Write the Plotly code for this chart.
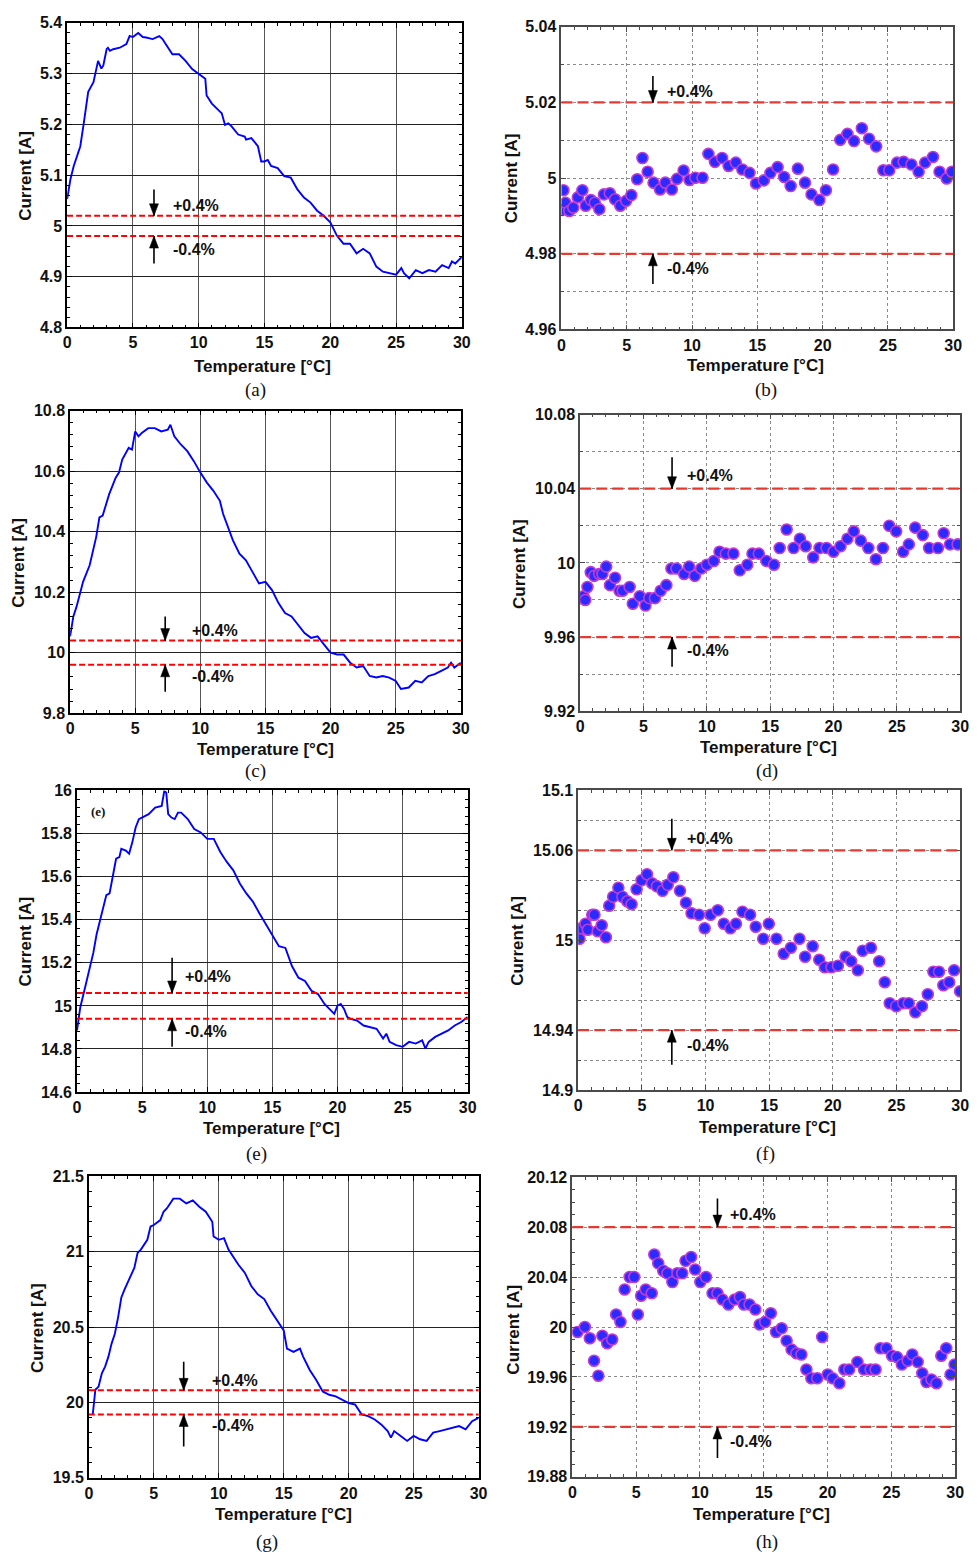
import plotly.graph_objects as go

W, H = 979, 1564
TOL = 0.004

# ---------------- data ----------------
temp_a = [0, 0.25, 0.5, 1, 1.25, 1.6, 2, 2.35, 2.6, 2.75, 3, 3.1, 3.25, 3.5, 4, 4.5, 4.75, 5, 5.4, 5.75,
          6, 6.5, 7, 7.25, 7.5, 8, 8.5, 9, 9.5, 10, 10.5, 10.6, 11, 11.5, 11.75, 12, 12.25, 12.5, 13, 13.5,
          13.6, 14, 14.5, 14.75, 15, 15.25, 15.5, 16, 16.5, 17, 17.5, 18, 18.5, 19, 19.5, 20, 20.5, 21, 21.5, 22,
          22.5, 23, 23.5, 24, 24.5, 25, 25.4, 25.6, 26, 26.5, 27, 27.5, 28, 28.5, 29, 29.25, 29.5, 30]
cur_a = [5.053, 5.092, 5.118, 5.157, 5.2, 5.264, 5.283, 5.325, 5.31, 5.316, 5.348, 5.351, 5.345, 5.348, 5.351, 5.358, 5.374, 5.372, 5.38, 5.372,
         5.371, 5.368, 5.374, 5.368, 5.358, 5.338, 5.338, 5.325, 5.309, 5.299, 5.29, 5.257, 5.241, 5.228, 5.222, 5.199, 5.202, 5.196, 5.18, 5.176,
         5.17, 5.173, 5.157, 5.127, 5.127, 5.13, 5.118, 5.114, 5.098, 5.095, 5.072, 5.056, 5.046, 5.03, 5.02, 5.007, 4.981, 4.965, 4.965, 4.946,
         4.955, 4.946, 4.92, 4.91, 4.907, 4.904, 4.917, 4.907, 4.897, 4.913, 4.907, 4.913, 4.91, 4.923, 4.917, 4.93, 4.926, 4.939]

temp_c = [0, 0.25, 0.5, 0.75, 1, 1.5, 2, 2.25, 2.5, 3, 3.5, 3.75, 4, 4.5, 4.75, 5, 5.25, 5.5, 6, 6.5,
          7, 7.5, 7.7, 8, 8.5, 9, 9.5, 10, 10.5, 11, 11.5, 11.75, 12, 12.5, 13, 13.5, 14, 14.5, 15, 15.5,
          16, 16.5, 17, 17.5, 18, 18.5, 19, 19.5, 20, 20.5, 21, 21.5, 22, 22.5, 23, 23.5, 24, 24.5, 25, 25.4,
          26, 26.5, 27, 27.5, 28, 28.5, 29, 29.25, 29.5, 30]
cur_c = [10.054, 10.12, 10.153, 10.196, 10.235, 10.289, 10.382, 10.447, 10.453, 10.524, 10.578, 10.595, 10.638, 10.677, 10.671, 10.731, 10.715, 10.726, 10.742, 10.742,
         10.731, 10.737, 10.753, 10.715, 10.688, 10.666, 10.633, 10.595, 10.562, 10.535, 10.502, 10.458, 10.431, 10.371, 10.327, 10.305, 10.267, 10.229, 10.234, 10.207,
         10.164, 10.131, 10.12, 10.093, 10.065, 10.049, 10.054, 10.027, 10.0, 9.994, 9.994, 9.967, 9.951, 9.956, 9.923, 9.918, 9.923, 9.918, 9.907, 9.88,
         9.885, 9.907, 9.902, 9.923, 9.929, 9.94, 9.951, 9.967, 9.951, 9.967]

temp_e = [0, 0.25, 0.5, 0.75, 1, 1.25, 1.5, 1.75, 2, 2.25, 2.5, 2.75, 3, 3.25, 3.4, 3.75, 4, 4.25, 4.5, 4.75,
          5, 5.5, 6, 6.5, 6.7, 6.85, 7, 7.25, 7.5, 7.75, 8, 8.5, 9, 9.5, 10, 10.5, 11, 11.5, 12, 12.5,
          13, 13.5, 14, 14.5, 15, 15.5, 16, 16.5, 17, 17.5, 18, 18.5, 19, 19.5, 19.75, 20, 20.25, 20.5, 20.75, 21,
          21.5, 22, 22.5, 23, 23.5, 23.75, 24, 24.5, 25, 25.5, 26, 26.5, 26.75, 27, 27.5, 28, 28.5, 29, 29.5, 30]
cur_e = [14.886, 14.994, 15.055, 15.116, 15.185, 15.246, 15.331, 15.392, 15.461, 15.514, 15.522, 15.606, 15.683, 15.69, 15.729, 15.721, 15.706, 15.76, 15.828, 15.867,
         15.874, 15.89, 15.92, 15.928, 15.997, 15.99, 15.89, 15.874, 15.867, 15.897, 15.897, 15.867, 15.821, 15.805, 15.775, 15.775, 15.714, 15.668, 15.629, 15.568,
         15.522, 15.484, 15.43, 15.377, 15.323, 15.277, 15.269, 15.185, 15.131, 15.116, 15.07, 15.055, 15.009, 14.978, 14.963, 15.001, 15.009, 14.986, 14.948, 14.94,
         14.932, 14.909, 14.902, 14.894, 14.848, 14.871, 14.833, 14.818, 14.81, 14.833, 14.825, 14.84, 14.802, 14.833, 14.856, 14.871, 14.886, 14.909, 14.925, 14.948]

temp_g = [0.3, 0.4, 0.5, 0.75, 1, 1.25, 1.5, 1.75, 2, 2.25, 2.5, 2.75, 3, 3.5, 3.75, 4, 4.5, 4.75, 5, 5.5,
          5.75, 6, 6.5, 7, 7.5, 8, 8.5, 9, 9.5, 9.6, 10, 10.4, 10.75, 11, 11.5, 12, 12.5, 13, 13.5, 14,
          14.5, 15, 15.25, 15.75, 16.25, 16.5, 17, 17.5, 18, 18.5, 19, 19.5, 20, 20.5, 21, 21.5, 22, 22.5, 23, 23.25,
          23.5, 24, 24.5, 25, 25.5, 26, 26.5, 27, 27.5, 28, 28.5, 29, 29.5, 30]
cur_g = [19.92, 19.998, 20.084, 20.105, 20.193, 20.237, 20.302, 20.39, 20.455, 20.564, 20.696, 20.75, 20.794, 20.892, 20.991, 21.013, 21.078, 21.166, 21.176, 21.209,
         21.264, 21.286, 21.351, 21.351, 21.319, 21.34, 21.297, 21.264, 21.198, 21.1, 21.078, 21.089, 21.013, 20.98, 20.914, 20.86, 20.772, 20.717, 20.685, 20.608,
         20.543, 20.477, 20.357, 20.335, 20.357, 20.302, 20.215, 20.149, 20.073, 20.051, 20.04, 20.018, 19.996, 19.985, 19.92, 19.909, 19.887, 19.854, 19.81, 19.767,
         19.81, 19.778, 19.745, 19.778, 19.756, 19.745, 19.8, 19.81, 19.821, 19.832, 19.843, 19.821, 19.876, 19.898]

temp_b = [0.05, 0.15, 0.3, 0.6, 0.9, 1.25, 1.6, 1.85, 2.25, 2.55, 2.9, 3.25, 3.7, 4.1, 4.5, 4.95, 5.35, 5.8, 6.2, 6.6,
          7.05, 7.55, 7.95, 8.45, 8.85, 9.35, 9.8, 10.25, 10.8, 11.25, 11.75, 12.3, 12.8, 13.35, 13.85, 14.4, 14.9, 15.5, 16, 16.55,
          17.05, 17.55, 18.1, 18.65, 19.15, 19.75, 20.25, 20.8, 21.35, 21.9, 22.4, 23, 23.55, 24.1, 24.65, 25.1, 25.7, 26.2, 26.8, 27.35,
          27.85, 28.45, 28.95, 29.5, 29.9]
cur_b = [4.9916, 4.9968, 4.9935, 4.9913, 4.9922, 4.9949, 4.9968, 4.9927, 4.9942, 4.9935, 4.9918, 4.9957, 4.996, 4.9944, 4.9927, 4.994, 4.9955, 4.9997, 5.0053, 5.0017,
         4.9988, 4.997, 4.9988, 4.997, 4.9998, 5.002, 4.9995, 5.0001, 5.0001, 5.0064, 5.0043, 5.0053, 5.0032, 5.0041, 5.0023, 5.0014, 4.9986, 4.9994, 5.0014, 5.0029,
         5.0003, 4.9979, 5.0025, 4.9988, 4.9957, 4.9942, 4.9968, 5.0023, 5.0101, 5.0117, 5.0098, 5.0132, 5.0104, 5.0084, 5.0021, 5.0021, 5.0041, 5.0043, 5.0036, 5.0017,
         5.0041, 5.0056, 5.0017, 4.9999, 5.0017]

temp_d = [0.05, 0.25, 0.4, 0.57, 0.83, 1.1, 1.5, 1.75, 2.05, 2.35, 2.75, 3.1, 3.35, 3.9, 4.15, 4.7, 5.15, 5.45, 5.9, 6.35,
          6.8, 7.2, 7.6, 8.2, 8.6, 9.05, 9.55, 10, 10.55, 11, 11.5, 12.1, 12.6, 13.2, 13.6, 14.1, 14.7, 15.3, 15.75, 16.3,
          16.85, 17.35, 17.8, 18.4, 18.9, 19.45, 20, 20.55, 21.1, 21.6, 22.15, 22.75, 23.35, 23.9, 24.4, 24.95, 25.5, 25.95, 26.45, 27.05,
          27.55, 28.25, 28.7, 29.2, 29.8]
cur_d = [9.981, 9.982, 9.980, 9.987, 9.995, 9.993, 9.994, 9.994, 9.998, 9.988, 9.992, 9.985, 9.985, 9.987, 9.978, 9.982, 9.977, 9.981, 9.981, 9.985,
         9.988, 9.997, 9.997, 9.994, 9.998, 9.993, 9.997, 9.999, 10.001, 10.006, 10.005, 10.005, 9.996, 9.999, 10.005, 10.005, 10.001, 9.999, 10.008, 10.018,
         10.008, 10.013, 10.009, 10.003, 10.008, 10.008, 10.006, 10.009, 10.013, 10.017, 10.012, 10.008, 10.002, 10.008, 10.02, 10.017, 10.006, 10.010, 10.019, 10.015,
         10.008, 10.008, 10.016, 10.010, 10.010]

temp_f = [0.1, 0.23, 0.57, 0.75, 1.1, 1.27, 1.53, 1.84, 2.17, 2.43, 2.74, 3.15, 3.47, 3.85, 4.19, 4.58, 4.97, 5.4, 5.8, 6.18,
          6.62, 7.03, 7.47, 7.99, 8.46, 8.9, 9.49, 9.93, 10.4, 10.96, 11.43, 11.95, 12.39, 12.9, 13.5, 13.94, 14.53, 14.97, 15.57, 16.14,
          16.7, 17.38, 17.82, 18.41, 18.93, 19.37, 19.89, 20.4, 21, 21.44, 21.96, 22.34, 22.99, 23.64, 24.08, 24.47, 24.98, 25.53, 25.96, 26.48,
          27, 27.46, 27.9, 28.34, 28.68, 29.14, 29.53, 30]
cur_f = [15.001, 15.008, 15.011, 15.007, 15.017, 15.017, 15.006, 15.010, 15.002, 15.023, 15.029, 15.035, 15.029, 15.026, 15.024, 15.034, 15.040, 15.044, 15.038, 15.036,
         15.033, 15.037, 15.042, 15.033, 15.025, 15.018, 15.017, 15.008, 15.017, 15.020, 15.011, 15.008, 15.011, 15.019, 15.017, 15.009, 15.001, 15.011, 15.001, 14.991,
         14.995, 15.001, 14.989, 14.996, 14.987, 14.982, 14.982, 14.983, 14.989, 14.986, 14.98, 14.993, 14.995, 14.986, 14.972, 14.958, 14.956, 14.958, 14.958, 14.952,
         14.956, 14.964, 14.979, 14.979, 14.970, 14.972, 14.98, 14.966]

temp_h = [0.41, 0.98, 1.37, 1.7, 2.04, 2.35, 2.73, 3.12, 3.43, 3.77, 4.1, 4.49, 4.85, 5.13, 5.39, 5.75, 6.22, 6.42, 6.73, 7.12,
          7.45, 7.84, 8.23, 8.61, 8.87, 9.31, 9.62, 10.03, 10.47, 10.99, 11.37, 11.76, 12.23, 12.72, 13.13, 13.44, 13.88, 14.34, 14.68, 15.11,
          15.55, 15.96, 16.4, 16.79, 17.18, 17.56, 17.95, 18.34, 18.73, 19.19, 19.58, 20.01, 20.4, 20.92, 21.31, 21.69, 22.34, 22.85, 23.37, 23.76,
          24.14, 24.61, 25.05, 25.43, 25.82, 26.28, 26.64, 27.06, 27.42, 27.75, 28.14, 28.53, 28.91, 29.3, 29.64, 29.95]
cur_h = [19.996, 20.0, 19.991, 19.973, 19.961, 19.993, 19.987, 19.99, 20.01, 20.004, 20.03, 20.04, 20.04, 20.01, 20.025, 20.03, 20.027, 20.058, 20.051, 20.045,
         20.043, 20.036, 20.043, 20.043, 20.053, 20.056, 20.046, 20.036, 20.04, 20.027, 20.027, 20.022, 20.018, 20.022, 20.024, 20.018, 20.018, 20.014, 20.002, 20.004,
         20.011, 19.996, 19.999, 19.989, 19.982, 19.979, 19.978, 19.966, 19.959, 19.959, 19.992, 19.962, 19.959, 19.955, 19.966, 19.966, 19.972, 19.966, 19.966, 19.966,
         19.983, 19.983, 19.977, 19.976, 19.97, 19.973, 19.978, 19.972, 19.963, 19.956, 19.958, 19.955, 19.977, 19.983, 19.962, 19.97]

nominal = {"a": 5, "b": 5, "c": 10, "d": 10, "e": 15, "f": 15, "g": 20, "h": 20}

x_ticks = [0, 5, 10, 15, 20, 25, 30]
x_labels = ["0", "5", "10", "15", "20", "25", "30"]

ytick_a = [4.8, 4.9, 5.0, 5.1, 5.2, 5.3, 5.4]
ylab_a = ["4.8", "4.9", "5", "5.1", "5.2", "5.3", "5.4"]
ytick_c = [9.8, 10.0, 10.2, 10.4, 10.6, 10.8]
ylab_c = ["9.8", "10", "10.2", "10.4", "10.6", "10.8"]
ytick_e = [14.6, 14.8, 15.0, 15.2, 15.4, 15.6, 15.8, 16.0]
ylab_e = ["14.6", "14.8", "15", "15.2", "15.4", "15.6", "15.8", "16"]
ytick_g = [19.5, 20.0, 20.5, 21.0, 21.5]
ylab_g = ["19.5", "20", "20.5", "21", "21.5"]
ytick_b = [4.96, 4.98, 5.0, 5.02, 5.04]
ylab_b = ["4.96", "4.98", "5", "5.02", "5.04"]
ytick_d = [9.92, 9.96, 10.0, 10.04, 10.08]
ylab_d = ["9.92", "9.96", "10", "10.04", "10.08"]
ytick_f = [14.9, 14.94, 15.0, 15.06, 15.1]
ylab_f = ["14.9", "14.94", "15", "15.06", "15.1"]
ytick_h = [19.88, 19.92, 19.96, 20.0, 20.04, 20.08, 20.12]
ylab_h = ["19.88", "19.92", "19.96", "20", "20.04", "20.08", "20.12"]

X_TITLE = "Temperature [°C]"
Y_TITLE = "Current [A]"

# ---------------- layout / style config ----------------
SANS = "Liberation Sans, Arial, sans-serif"
SERIF = "Liberation Serif, Times New Roman, serif"

panels = [
    dict(k="a", kind="line", x=temp_a, y=cur_a, box=(64, 15, 464, 323), yr=[4.8, 5.4], yt=ytick_a, yl=ylab_a,
         ymin=0.02, ygrid_minor=False,
         arr_x=6.6, up_tail=4.926, dn_tail=5.072, tx=7.9, t_up=5.04, t_dn=4.953,
         xt=(262, 362), yt_pos=(21, 170), cap=(255, 386)),
    dict(k="b", kind="pts", x=temp_b, y=cur_b, box=(565, 19, 962, 325), yr=[4.96, 5.04], yt=ytick_b, yl=ylab_b,
         ymin=0.01, ygrid_minor=True,
         arr_x=7.0, up_tail=4.972, dn_tail=5.027, tx=7.95, t_up=5.0228, t_dn=4.976,
         xt=(762, 361), yt_pos=(514, 172), cap=(772, 386)),
    dict(k="c", kind="line", x=temp_c, y=cur_c, box=(67, 407, 463, 713), yr=[9.8, 10.8], yt=ytick_c, yl=ylab_c,
         ymin=0.04, ygrid_minor=False,
         arr_x=7.3, up_tail=9.871, dn_tail=10.12, tx=9.2, t_up=10.073, t_dn=9.92,
         xt=(265, 750), yt_pos=(15, 561), cap=(255, 771)),
    dict(k="d", kind="pts", x=temp_d, y=cur_d, box=(584, 411, 969, 711), yr=[9.92, 10.08], yt=ytick_d, yl=ylab_d,
         ymin=0.02, ygrid_minor=True,
         arr_x=7.25, up_tail=9.944, dn_tail=10.057, tx=8.3, t_up=10.047, t_dn=9.953,
         xt=(775, 748), yt_pos=(523, 562), cap=(773, 771)),
    dict(k="e", kind="line", x=temp_e, y=cur_e, box=(74, 791, 470, 1096), yr=[14.6, 16.0], yt=ytick_e, yl=ylab_e,
         ymin=0.04, ygrid_minor=False,
         arr_x=7.3, up_tail=14.81, dn_tail=15.223, tx=8.15, t_up=15.135, t_dn=14.879,
         xt=(271, 1133), yt_pos=(22, 944), cap=(256, 1159)),
    dict(k="f", kind="pts", x=temp_f, y=cur_f, box=(582, 791, 969, 1094), yr=[14.9, 15.1], yt=ytick_f, yl=ylab_f,
         ymin=0.02, ygrid_minor=True,
         arr_x=7.35, up_tail=14.917, dn_tail=15.081, tx=8.4, t_up=15.068, t_dn=14.93,
         xt=(774, 1132), yt_pos=(521, 943), cap=(772, 1159)),
    dict(k="g", kind="line", x=temp_g, y=cur_g, box=(86, 1181, 481, 1486), yr=[19.5, 21.5], yt=ytick_g, yl=ylab_g,
         ymin=0.1, ygrid_minor=False,
         arr_x=7.3, up_tail=19.708, dn_tail=20.27, tx=9.35, t_up=20.145, t_dn=19.85,
         xt=(283, 1523), yt_pos=(34, 1335), cap=(267, 1551)),
    dict(k="h", kind="pts", x=temp_h, y=cur_h, box=(576, 1182, 964, 1485), yr=[19.88, 20.12], yt=ytick_h, yl=ylab_h,
         ymin=0.01, ygrid_minor=False,
         arr_x=11.37, up_tail=19.895, dn_tail=20.103, tx=12.2, t_up=20.09, t_dn=19.908,
         xt=(768, 1523), yt_pos=(516, 1336), cap=(773, 1551)),
]

fig = go.Figure()
layout = dict(width=W, height=H, margin=dict(l=0, r=0, t=0, b=0),
              paper_bgcolor="white", plot_bgcolor="white", showlegend=False)
shapes, annotations = [], []

for i, p in enumerate(panels, start=1):
    xn = "x" if i == 1 else f"x{i}"
    yn = "y" if i == 1 else f"y{i}"
    xk = "xaxis" if i == 1 else f"xaxis{i}"
    yk = "yaxis" if i == 1 else f"yaxis{i}"
    x0, y0, x1, y1 = p["box"]
    left = p["kind"] == "line"
    frame = "#000000" if left else "#4a4a4a"
    tick_fs = 16
    if left:
        gx = dict(gridcolor="#555555", gridwidth=1.3, griddash="solid")
        gy = dict(gridcolor="#222222", gridwidth=1, griddash="solid")
    else:
        gx = dict(gridcolor="#8a8a8a", gridwidth=1.2, griddash="dot")
        gy = dict(gridcolor="#8a8a8a", gridwidth=1.2, griddash="dot")
    common = dict(showline=True, linecolor=frame, linewidth=1.6 if left else 1.8, mirror="allticks",
                  ticks="inside", ticklen=5, tickwidth=1, tickcolor=frame, zeroline=False,
                  showgrid=True,
                  tickfont=dict(family=SANS, size=tick_fs, color="#111111", weight="bold"))
    layout[xk] = dict(domain=[x0 / W, x1 / W], anchor=yn, range=[0, 30],
                      tickmode="array", tickvals=x_ticks, ticktext=x_labels,
                      minor=dict(dtick=1, tick0=0, ticks="inside", ticklen=3, tickcolor=frame, showgrid=False),
                      **gx, **common)
    yminor = dict(dtick=p["ymin"], tick0=p["yr"][0], ticks="inside", ticklen=3, tickcolor=frame,
                  showgrid=p["ygrid_minor"])
    if p["ygrid_minor"]:
        yminor.update(gridcolor="#8a8a8a", gridwidth=1.2, griddash="dot")
    layout[yk] = dict(domain=[1 - y1 / H, 1 - y0 / H], anchor=xn, range=p["yr"],
                      tickmode="array", tickvals=p["yt"], ticktext=p["yl"],
                      minor=yminor, **gy, **common)

    if left:
        fig.add_trace(go.Scatter(x=p["x"], y=p["y"], mode="lines", xaxis=xn, yaxis=yn,
                                 line=dict(color="#0000ff", width=1.9), hoverinfo="skip"))
    else:
        fig.add_trace(go.Scatter(x=p["x"], y=p["y"], mode="markers", xaxis=xn, yaxis=yn,
                                 marker=dict(size=11, color="#2b2bff",
                                             line=dict(color="#c43bd0", width=1.6)),
                                 hoverinfo="skip"))

    nom = nominal[p["k"]]
    up_lim, lo_lim = nom * (1 + TOL), nom * (1 - TOL)
    for lim in (up_lim, lo_lim):
        shapes.append(dict(type="line", xref=f"{xn} domain", yref=yn, x0=0, x1=1, y0=lim, y1=lim,
                           line=dict(color="#ff0000" if left else "#e53a30", width=2 if left else 2.2,
                                     dash="6px,3px" if left else "11px,5px"), layer="above"))
    # arrows drawn as shapes: shaft + pixel-sized arrowhead
    for tail, lim, sgn in ((p["dn_tail"], up_lim, 1), (p["up_tail"], lo_lim, -1)):
        shapes.append(dict(type="line", xref=xn, yref=yn, x0=p["arr_x"], x1=p["arr_x"],
                           y0=tail, y1=lim, line=dict(color="black", width=1.6), layer="above"))
        shapes.append(dict(type="path", xref=xn, yref=yn, xsizemode="pixel", ysizemode="pixel",
                           xanchor=p["arr_x"], yanchor=lim,
                           path=f"M0,0 L-4.5,{sgn * 12} L4.5,{sgn * 12} Z",
                           fillcolor="black", line=dict(color="black", width=0.5), layer="above"))
    lab_font = dict(family=SANS, size=16, color="#111111", weight="bold")
    annotations.append(dict(x=p["tx"], y=p["t_up"], xref=xn, yref=yn, text="+0.4%", showarrow=False,
                            xanchor="left", yanchor="middle", font=lab_font))
    annotations.append(dict(x=p["tx"], y=p["t_dn"], xref=xn, yref=yn, text="-0.4%", showarrow=False,
                            xanchor="left", yanchor="middle", font=lab_font))
    # axis titles
    title_font = dict(family=SANS, size=17, color="#111111", weight="bold")
    annotations.append(dict(x=p["xt"][0] / W, y=1 - p["xt"][1] / H, xref="paper", yref="paper",
                            text=X_TITLE, showarrow=False,
                            xanchor="center", yanchor="middle", font=title_font))
    annotations.append(dict(x=p["yt_pos"][0] / W, y=1 - p["yt_pos"][1] / H, xref="paper", yref="paper",
                            text=Y_TITLE, showarrow=False, textangle=-90,
                            xanchor="center", yanchor="middle", font=title_font))
    # caption
    annotations.append(dict(x=p["cap"][0] / W, y=1 - p["cap"][1] / H, xref="paper", yref="paper",
                            text=f"({p['k']})", showarrow=False, xanchor="center", yanchor="middle",
                            font=dict(family=SERIF, size=19, color="#111111")))

# inner label of panel (e)
annotations.append(dict(x=95 / W, y=1 - 812 / H, xref="paper", yref="paper", text="(e)",
                        showarrow=False, xanchor="center", yanchor="middle",
                        font=dict(family=SERIF, size=13, color="#111111", weight="bold")))

layout["shapes"] = shapes
layout["annotations"] = annotations
fig.update_layout(**layout)
fig.write_html("out.html")
